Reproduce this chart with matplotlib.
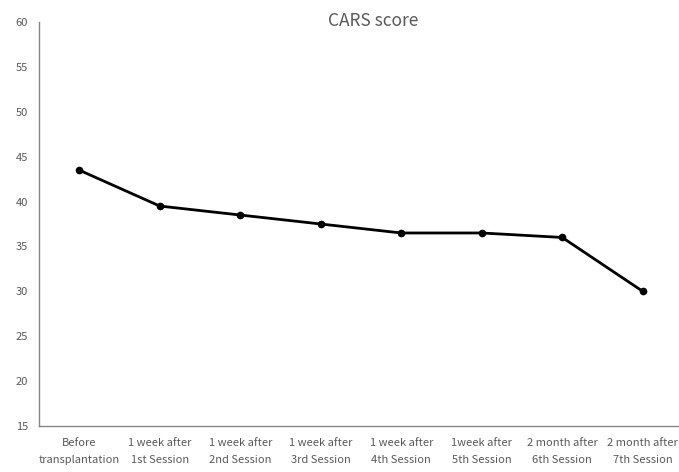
import matplotlib
matplotlib.use("Agg")
import matplotlib.pyplot as plt

# CARS score over time
stages = ["Before\ntransplantation", "1 week after\n1st Session", "1 week after\n2nd Session",
          "1 week after\n3rd Session", "1 week after\n4th Session", "1week after\n5th Session",
          "2 month after\n6th Session", "2 month after\n7th Session"]
scores = [43.5, 39.5, 38.5, 37.5, 36.5, 36.5, 36.0, 30.0]
yticks = [15, 20, 25, 30, 35, 40, 45, 50, 55, 60]

plt.rcParams['font.family'] = ['Noto Sans CJK KR', 'DejaVu Sans']
grey = '#595959'

fig = plt.figure(figsize=(6.79, 4.72), dpi=100)
ax = fig.add_axes([39 / 679, 1 - 426 / 472, 644 / 679, 404 / 472])

x = list(range(len(stages)))
ax.plot(x, scores, color='black', linewidth=2, marker='o', markersize=4.5)

ax.set_xlim(-0.5, len(stages) - 0.5)
ax.set_ylim(15, 60)
ax.set_yticks(yticks)
ax.set_xticks(x)
ax.set_xticklabels(stages, fontsize=8, color=grey, linespacing=1.85)
ax.tick_params(axis='y', labelsize=8, labelcolor=grey, length=0, pad=8)
ax.tick_params(axis='x', length=0, pad=9)

for side in ['top', 'right']:
    ax.spines[side].set_visible(False)
for side in ['left', 'bottom']:
    ax.spines[side].set_color('#868686')
    ax.spines[side].set_linewidth(1)

fig.text(373 / 679, 1 - 21 / 472, 'CARS score', ha='center', va='center',
         fontsize=12.5, color=grey)

fig.savefig('out.png', dpi=100)
